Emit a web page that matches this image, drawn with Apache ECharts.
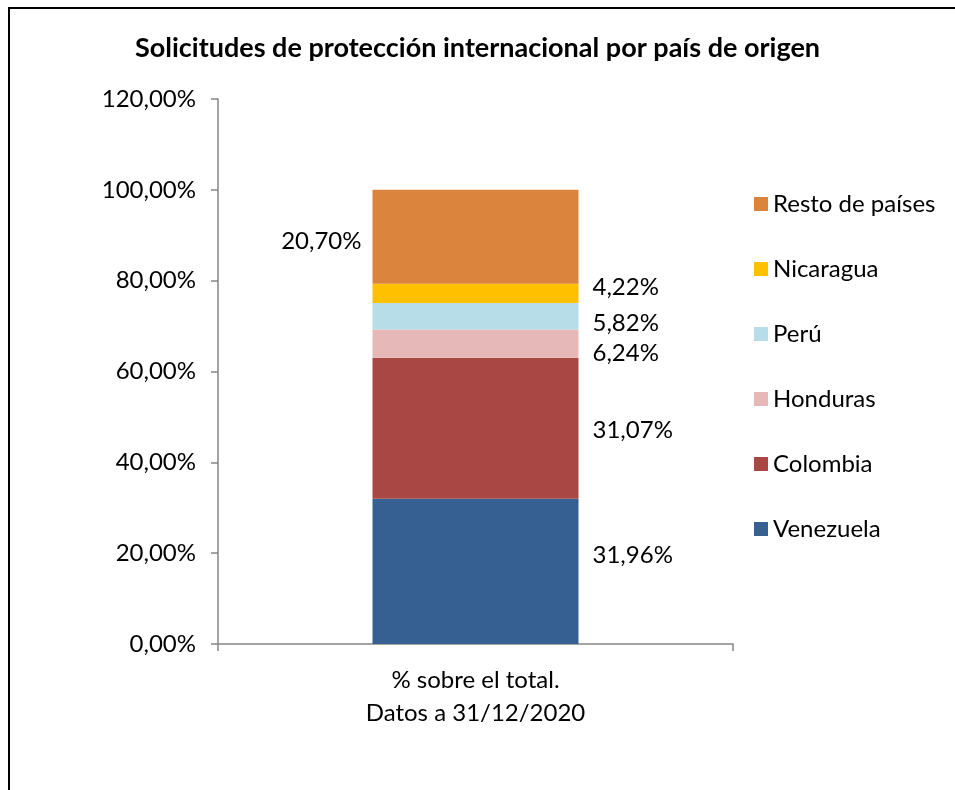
<!DOCTYPE html>
<html>
<head>
<meta charset="utf-8">
<script src="https://cdn.jsdelivr.net/npm/echarts@6/dist/echarts.min.js"></script>
<style>
  html, body { margin: 0; padding: 0; background: #fff; }
  #chart { width: 955px; height: 790px; }
</style>
</head>
<body>
<div id="chart"></div>
<script>
// datos
var categories = ['% sobre el total.\nDatos a 31/12/2020'];
var seriesNames = ['Venezuela', 'Colombia', 'Honduras', 'Perú', 'Nicaragua', 'Resto de países'];
var seriesValues = [[31.96], [31.07], [6.24], [5.82], [4.22], [20.70]];
var seriesColors = ['#376092', '#A94744', '#E6B8B7', '#B7DEE8', '#FFC000', '#DB843D'];
var yTicks = [0, 20, 40, 60, 80, 100, 120];

var fontName = 'Lato';
// posicion de cada etiqueta (como en Excel, ligeramente desplazadas)
var labelPos = ['right', 'right', 'right', 'right', 'right', 'left'];
var labelOffset = [[0, -16], [0, 2], [0, 10], [0, 7], [0, -6], [3, 4]];

function fmt(v) {
  return v.toFixed(2).replace('.', ',') + '%';
}

var myChart = echarts.init(document.getElementById('chart'));

var series = seriesNames.map(function (name, i) {
  return {
    name: name,
    type: 'bar',
    stack: 'total',
    barWidth: '40%',
    itemStyle: { color: seriesColors[i] },
    label: {
      show: true,
      position: labelPos[i],
      distance: 14,
      offset: labelOffset[i],
      color: '#000',
      fontFamily: fontName,
      fontSize: 24,
      formatter: function (p) { return fmt(p.value); }
    },
    emphasis: { disabled: true },
    data: seriesValues[i]
  };
});

var option = {
  animation: false,
  backgroundColor: '#fff',
  title: {
    text: 'Solicitudes de protección internacional por país de origen',
    left: 'center',
    top: 30,
    textStyle: {
      fontFamily: fontName,
      fontSize: 27,
      fontWeight: 'bold',
      color: '#000'
    }
  },
  // marco del grafico (solo se ve arriba y a la izquierda)
  graphic: [{
    type: 'polyline',
    shape: { points: [[9, 800], [9, 8], [960, 8]] },
    style: { fill: 'none', stroke: '#000', lineWidth: 2 },
    silent: true
  }],
  legend: {
    orient: 'vertical',
    left: 749,
    top: 187,
    itemWidth: 14,
    itemHeight: 14,
    itemGap: 41,
    icon: 'rect',
    data: seriesNames.slice().reverse(),
    textStyle: {
      fontFamily: fontName,
      fontSize: 24,
      lineHeight: 24,
      color: '#000'
    }
  },
  grid: {
    left: 218,
    right: 222,
    top: 99,
    bottom: 146
  },
  xAxis: {
    type: 'category',
    data: categories,
    axisLine: { lineStyle: { color: '#868686', width: 1.5 } },
    axisTick: { show: true, length: 7, lineStyle: { color: '#868686', width: 1.5 } },
    axisLabel: {
      color: '#000',
      fontFamily: fontName,
      fontSize: 24,
      lineHeight: 33,
      margin: 20
    }
  },
  yAxis: {
    type: 'value',
    min: yTicks[0],
    max: yTicks[yTicks.length - 1],
    interval: 20,
    axisLine: { show: true, lineStyle: { color: '#868686', width: 1.5 } },
    axisTick: { show: true, length: 7, lineStyle: { color: '#868686', width: 1.5 } },
    splitLine: { show: false },
    axisLabel: {
      color: '#000',
      fontFamily: fontName,
      fontSize: 24,
      margin: 22,
      formatter: function (v) { return fmt(v); }
    }
  },
  series: series
};

myChart.setOption(option, true);
</script>
</body>
</html>
